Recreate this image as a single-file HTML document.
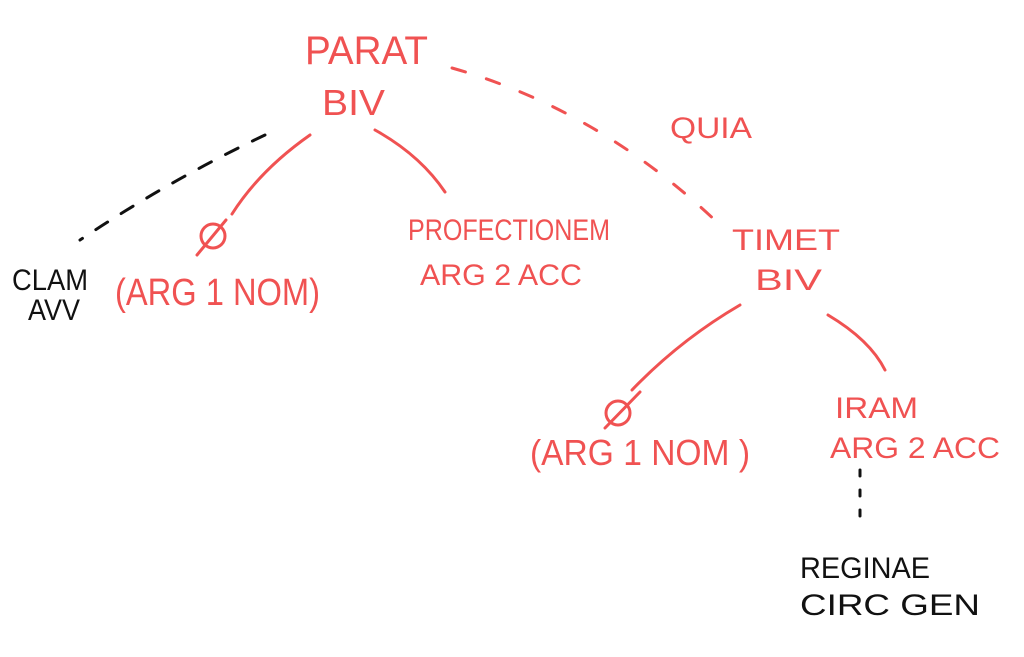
<!DOCTYPE html>
<html><head><meta charset="utf-8"><style>
html,body{margin:0;padding:0;background:#fff;width:1024px;height:657px;overflow:hidden}
svg text{font-family:"Liberation Sans",sans-serif;font-size:30px;}
.r{fill:#f05252}.k{fill:#111}
</style></head><body>
<svg width="1024" height="657" viewBox="0 0 1024 657">
<g fill="none" stroke-linecap="round" stroke-width="3">
<path d="M452 68 Q600 110 720 225" stroke="#f05252" stroke-dasharray="14 22"/>
<path d="M310 135 Q260 170 232 214" stroke="#f05252"/>
<path d="M226 220 L197 255" stroke="#f05252"/>
<circle cx="213" cy="236" r="12" stroke="#f05252"/>
<path d="M375 130 Q420 155 445 192" stroke="#f05252"/>
<path d="M265 135 Q170 180 80 240" stroke="#111" stroke-dasharray="14 16"/>
<path d="M740 305 Q680 340 632 390" stroke="#f05252"/>
<path d="M640 392 L605 428" stroke="#f05252"/>
<circle cx="618" cy="413" r="12" stroke="#f05252"/>
<path d="M828 315 Q870 340 885 370" stroke="#f05252"/>
<path d="M860 470 L860 528" stroke="#111" stroke-dasharray="6 14"/>
</g>
<text class="r" x="305" y="64" textLength="123" lengthAdjust="spacingAndGlyphs" style="font-size:40px">PARAT</text>
<text class="r" x="322" y="115" textLength="63" lengthAdjust="spacingAndGlyphs" style="font-size:36px">BIV</text>
<text class="r" x="670" y="138" textLength="82" lengthAdjust="spacingAndGlyphs">QUIA</text>
<text class="r" x="115" y="305" textLength="205" lengthAdjust="spacingAndGlyphs" style="font-size:38px">(ARG 1 NOM)</text>
<text class="r" x="408" y="240" textLength="202" lengthAdjust="spacingAndGlyphs">PROFECTIONEM</text>
<text class="r" x="420" y="285" textLength="162" lengthAdjust="spacingAndGlyphs">ARG 2 ACC</text>
<text class="k" x="12" y="290" textLength="76" lengthAdjust="spacingAndGlyphs">CLAM</text>
<text class="k" x="28" y="320" textLength="52" lengthAdjust="spacingAndGlyphs">AVV</text>
<text class="r" x="732" y="250" textLength="108" lengthAdjust="spacingAndGlyphs">TIMET</text>
<text class="r" x="755" y="290" textLength="67" lengthAdjust="spacingAndGlyphs">BIV</text>
<text class="r" x="530" y="465" textLength="220" lengthAdjust="spacingAndGlyphs" style="font-size:36px">(ARG 1 NOM )</text>
<text class="r" x="835" y="418" textLength="83" lengthAdjust="spacingAndGlyphs">IRAM</text>
<text class="r" x="830" y="458" textLength="170" lengthAdjust="spacingAndGlyphs">ARG 2 ACC</text>
<text class="k" x="800" y="578" textLength="130" lengthAdjust="spacingAndGlyphs">REGINAE</text>
<text class="k" x="800" y="615" textLength="180" lengthAdjust="spacingAndGlyphs">CIRC GEN</text>
</svg>
</body></html>
